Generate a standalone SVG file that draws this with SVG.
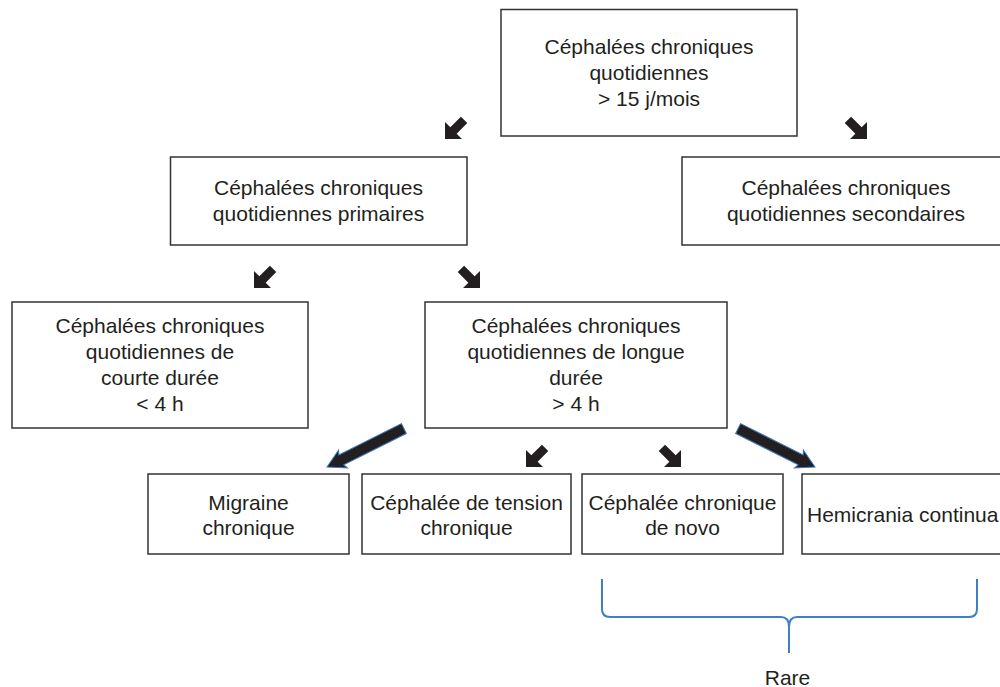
<svg xmlns="http://www.w3.org/2000/svg" width="1000" height="687" viewBox="0 0 1000 687">
<defs>
<style>
.box{fill:#fff;stroke:#333;stroke-width:1.5}
.t{font-family:"Liberation Sans",Arial,sans-serif;font-size:21px;fill:#231f20;text-anchor:middle}
.sa{fill:#231f20}
.ba{fill:#231f20;stroke:#3b7cc4;stroke-width:1}
.brace{fill:none;stroke:#3f7fc4;stroke-width:2}
</style>
<polygon id="small" points="0,0 -12,-12 -12,-4.5 -27,-4.5 -27,4.5 -12,4.5 -12,12"/>
<polygon id="big" points="0,0 -18,-10 -16,-5.5 -86,-5.5 -86,5.5 -16,5.5 -18,10"/>
</defs>
<rect width="1000" height="687" fill="#fff"/>
<g id="connectors">
<use href="#small" class="sa" transform="translate(445,139) rotate(135)"/>
<use href="#small" class="sa" transform="translate(867,139) rotate(45)"/>
<use href="#small" class="sa" transform="translate(254,288) rotate(135)"/>
<use href="#small" class="sa" transform="translate(480,288) rotate(45)"/>
<use href="#small" class="sa" transform="translate(526,467) rotate(135)"/>
<use href="#small" class="sa" transform="translate(681,467) rotate(45)"/>
<use href="#big" class="ba" transform="translate(327,467) rotate(153.43)"/>
<use href="#big" class="ba" transform="translate(815,467) rotate(26.57)"/>
<path class="brace" d="M602,579 V609 Q602,617 610,617 H781 Q789,617 789,627 V653 M789,627 Q789,617 797,617 H969 Q977,617 977,609 V579"/>
</g>
<g id="n-top">
<rect class="box" x="501" y="9.5" width="296" height="126.5"/>
<text class="t" x="649" y="54">Céphalées chroniques</text>
<text class="t" x="649" y="80">quotidiennes</text>
<text class="t" x="649" y="106">&gt; 15 j/mois</text>
</g>
<g id="n-primary">
<rect class="box" x="170.5" y="157" width="296.5" height="88"/>
<text class="t" x="318.5" y="195">Céphalées chroniques</text>
<text class="t" x="318.5" y="221">quotidiennes primaires</text>
</g>
<g id="n-secondary">
<rect class="box" x="682" y="157" width="330" height="88"/>
<text class="t" x="846" y="195">Céphalées chroniques</text>
<text class="t" x="846" y="221">quotidiennes secondaires</text>
</g>
<g id="n-short">
<rect class="box" x="12" y="302" width="296" height="126"/>
<text class="t" x="160" y="333">Céphalées chroniques</text>
<text class="t" x="160" y="359">quotidiennes de</text>
<text class="t" x="160" y="385">courte durée</text>
<text class="t" x="160" y="411">&lt; 4 h</text>
</g>
<g id="n-long">
<rect class="box" x="425" y="302" width="302" height="126"/>
<text class="t" x="576" y="333">Céphalées chroniques</text>
<text class="t" x="576" y="359">quotidiennes de longue</text>
<text class="t" x="576" y="385">durée</text>
<text class="t" x="576" y="411">&gt; 4 h</text>
</g>
<g id="n-migraine">
<rect class="box" x="148" y="474" width="201" height="80"/>
<text class="t" x="248.5" y="510">Migraine</text>
<text class="t" x="248.5" y="535">chronique</text>
</g>
<g id="n-tension">
<rect class="box" x="362" y="474" width="209" height="80"/>
<text class="t" x="466.5" y="510">Céphalée de tension</text>
<text class="t" x="466.5" y="535">chronique</text>
</g>
<g id="n-novo">
<rect class="box" x="582" y="474" width="201" height="80"/>
<text class="t" x="682.5" y="510">Céphalée chronique</text>
<text class="t" x="682.5" y="535">de novo</text>
</g>
<g id="n-hemicrania">
<rect class="box" x="802" y="474" width="210" height="80"/>
<text class="t" x="807" y="522" style="text-anchor:start">Hemicrania continua</text>
</g>
<g id="n-rare">
<text class="t" x="787.5" y="685">Rare</text>
</g>
</svg>
